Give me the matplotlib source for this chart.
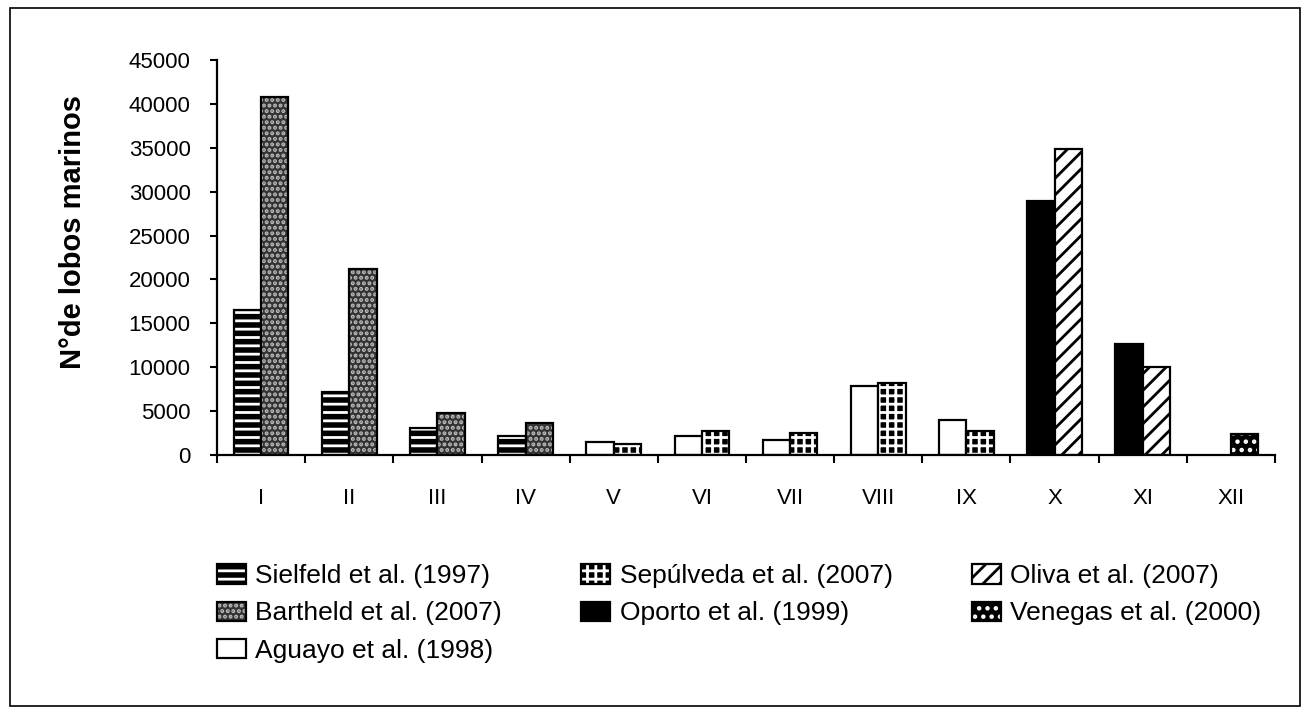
import matplotlib
matplotlib.use("Agg")
import matplotlib.pyplot as plt
from matplotlib.patches import Patch, Rectangle

plt.rcParams["font.family"] = ["Liberation Sans", "DejaVu Sans"]
plt.rcParams["hatch.linewidth"] = 2.0

regiones = ["I", "II", "III", "IV", "V", "VI", "VII", "VIII", "IX", "X", "XI", "XII"]

# valores (None = sin dato)
sielfeld = [16500, 7200, 3100, 2200, None, None, None, None, None, None, None, None]
bartheld = [40800, 21200, 4800, 3700, None, None, None, None, None, None, None, None]
aguayo = [None, None, None, None, 1500, 2200, 1700, 7900, 4000, None, None, None]
sepulveda = [None, None, None, None, 1200, 2700, 2500, 8200, 2700, None, None, None]
oporto = [None, None, None, None, None, None, None, None, None, 28900, 12600, None]
oliva = [None, None, None, None, None, None, None, None, None, 34900, 10000, None]
venegas = [None, None, None, None, None, None, None, None, None, None, None, 2400]

# (etiqueta, datos, lado, relleno, trama, color de trama)
series = [
    ("Sielfeld et al. (1997)", sielfeld, -1, "black", "--", "white"),
    ("Bartheld et al. (2007)", bartheld, 1, "#333333", "...", "#bdbdbd"),
    ("Aguayo et al. (1998)", aguayo, -1, "white", None, "black"),
    ("Sepúlveda et al. (2007)", sepulveda, 1, "black", "++", "white"),
    ("Oporto et al. (1999)", oporto, -1, "black", None, "black"),
    ("Oliva et al. (2007)", oliva, 1, "white", "//", "black"),
    ("Venegas et al. (2000)", venegas, 1, "black", "..", "white"),
]

ancho = 0.31

fig = plt.figure(figsize=(13.04, 7.15), dpi=100)
ax = fig.add_axes([217 / 1304, 1 - 455 / 715, 1058 / 1304, 395 / 715])

handles = []
for label, datos, lado, fc, hatch, hc in series:
    xs = [i + 0.5 + lado * ancho / 2 for i, v in enumerate(datos) if v is not None]
    ys = [v for v in datos if v is not None]
    ax.bar(xs, ys, width=ancho, facecolor=fc, edgecolor=hc, hatch=hatch, linewidth=0)
    ax.bar(xs, ys, width=ancho, fill=False, edgecolor="black", linewidth=1.6)
    handles.append((Patch(facecolor=fc, edgecolor=hc, hatch=hatch, linewidth=0),
                    Patch(fill=False, edgecolor="black", linewidth=1.6)))

ax.set_xlim(0, 12)
ax.set_ylim(0, 45000)
ax.set_yticks(range(0, 45001, 5000))
ax.set_xticks(range(0, 13))
ax.set_xticklabels([])
ax.set_xticks([i + 0.5 for i in range(12)], minor=True)
ax.set_xticklabels(regiones, minor=True)
ax.tick_params(axis="x", which="major", length=6, width=1.5, direction="out")
ax.tick_params(axis="x", which="minor", length=0, pad=24, labelsize=16)
ax.tick_params(axis="y", length=5, width=1.5, direction="out", pad=14, labelsize=16)

for s in ["top", "right"]:
    ax.spines[s].set_visible(False)
for s in ["left", "bottom"]:
    ax.spines[s].set_linewidth(1.6)

ax.set_ylabel("N°de lobos marinos", fontsize=21, fontweight="bold")
ax.yaxis.set_label_coords(-0.123, 0.565)

ax.legend(handles, [s[0] for s in series], ncol=3, frameon=False,
          loc="upper left", bbox_to_anchor=(204 / 1304, 1 - 551 / 715),
          bbox_transform=fig.transFigure, fontsize=19, handlelength=1.1,
          handleheight=0.75, handletextpad=0.35, labelspacing=0.5,
          columnspacing=3.0, borderpad=0)

fig.patches.append(Rectangle((10 / 1304, 1 - 706 / 715), 1290 / 1304, 698 / 715,
                             transform=fig.transFigure, fill=False,
                             edgecolor="black", linewidth=1.2))

fig.savefig("out.png", dpi=100)
